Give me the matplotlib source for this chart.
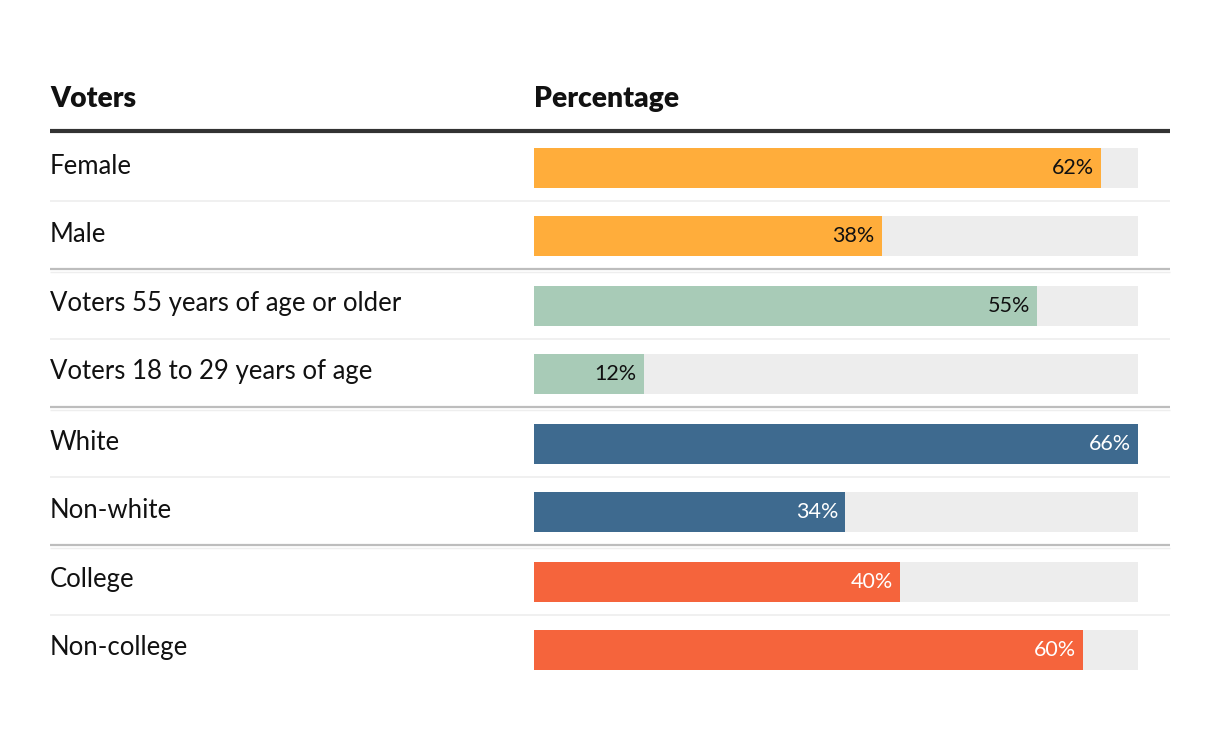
import matplotlib
matplotlib.use("Agg")
import matplotlib.pyplot as plt
from matplotlib.transforms import blended_transform_factory

categories = ["Female", "Male", "Voters 55 years of age or older", "Voters 18 to 29 years of age",
              "White", "Non-white", "College", "Non-college"]
values = [62, 38, 55, 12, 66, 34, 40, 60]
groups = [0, 0, 1, 1, 2, 2, 3, 3]
group_colors = ["#ffad3b", "#a8cbb7", "#3e6a8f", "#f5643c"]
label_colors = ["#111111", "#111111", "#ffffff", "#ffffff"]
header_left = "Voters"
header_right = "Percentage"
scale_max = 66

W, H = 1220, 732
fig = plt.figure(figsize=(W / 100, H / 100), dpi=100)
ax = fig.add_axes([0, 0, 1, 1])
ax.axis("off")

x0_px, x1_px = 534, 1138
ppu = (x1_px - x0_px) / scale_max
ax.set_xlim(-x0_px / ppu, (W - x0_px) / ppu)
ax.set_ylim(H, 0)

font = "Lato"
trans = blended_transform_factory(fig.transFigure, ax.transData)

row_h = 68
bar_h = 40
ys = [168 + i * row_h + g * 2 for i, g in enumerate(groups)]

# header
ax.text(50 / W, 99, header_left, transform=trans, fontsize=20.3, fontweight="heavy",
        family=font, va="center", ha="left", color="#111111")
ax.text(0, 99, header_right, fontsize=20.3, fontweight="heavy", family=font,
        va="center", ha="left", color="#111111")
ax.plot([50 / W, 1170 / W], [131, 131], transform=trans, color="#333333", lw=3,
        solid_capstyle="butt")

for i, (cat, v, g, y) in enumerate(zip(categories, values, groups, ys)):
    ax.barh(y, scale_max, left=0, height=bar_h, color="#ededed", zorder=1)
    ax.barh(y, v, left=0, height=bar_h, color=group_colors[g], zorder=2)
    ax.text(v - 7 / ppu, y, f"{v}%", ha="right", va="center", fontsize=15.5,
            family=font, color=label_colors[g], zorder=3)
    ax.text(50 / W, y - 2, cat, transform=trans, ha="left", va="center", fontsize=18.5,
            family=font, color="#111111")
    # separator below
    sep_y = y + 34
    if i == len(categories) - 1:
        continue
    if groups[i + 1] != g:
        ax.plot([50 / W, 1170 / W], [sep_y - 1, sep_y - 1], transform=trans,
                color="#bdbdbd", lw=1.6, solid_capstyle="butt")
        ax.plot([50 / W, 1170 / W], [sep_y + 1.5, sep_y + 1.5], transform=trans,
                color="#eeeeee", lw=1, solid_capstyle="butt")
    else:
        ax.plot([50 / W, 1170 / W], [sep_y - 1, sep_y - 1], transform=trans,
                color="#eeeeee", lw=1.2, solid_capstyle="butt")

fig.savefig("out.png", dpi=100, facecolor="white")
